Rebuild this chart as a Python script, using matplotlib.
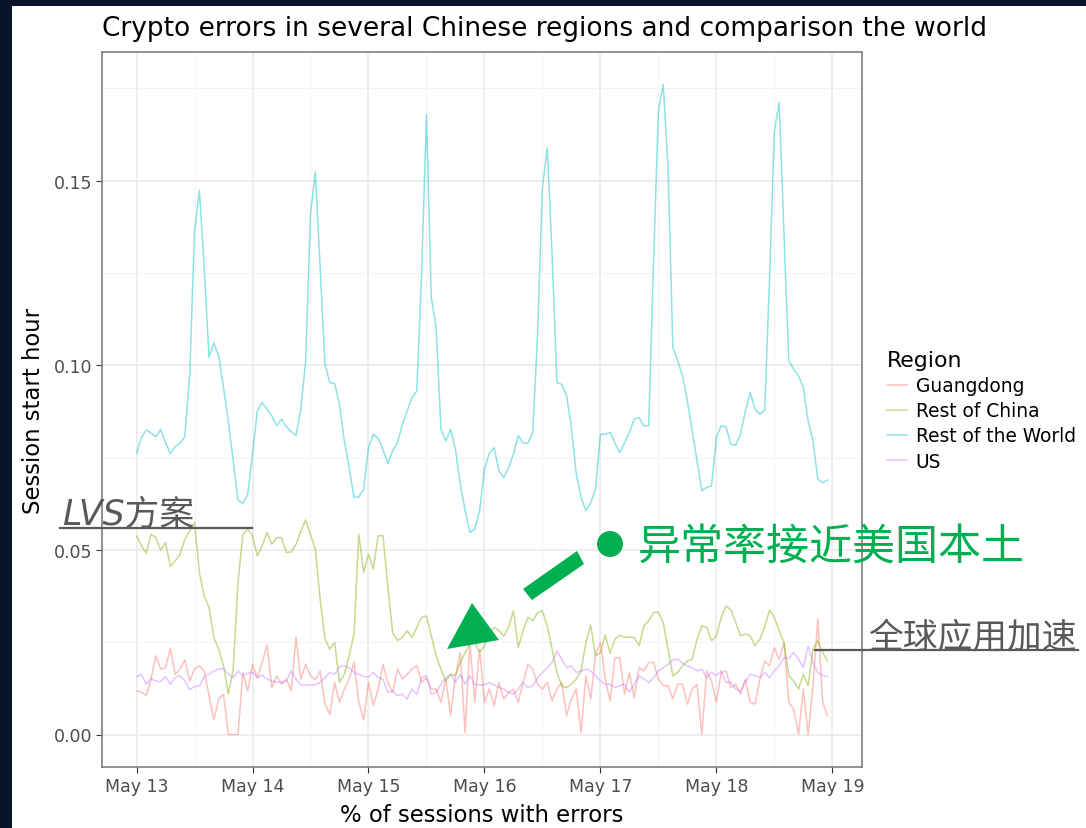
import numpy as np
import matplotlib
matplotlib.use('Agg')
import matplotlib.pyplot as plt
from matplotlib.patches import Polygon, Rectangle, Ellipse
from matplotlib.lines import Line2D

plt.rcParams['font.family'] = ['DejaVu Sans', 'Noto Sans CJK SC']

regions = ['Guangdong', 'Rest of China', 'Rest of the World', 'US']
colors = ['#F8766D', '#7CAE00', '#00BFC4', '#C77CFF']
day_labels = ['May 13', 'May 14', 'May 15', 'May 16', 'May 17', 'May 18', 'May 19']

# hourly values, May 13 00:00 .. May 18 23:00
guangdong = [
    0.0118, 0.0115, 0.0106, 0.0150, 0.0213, 0.0177, 0.0181, 0.0233, 0.0163, 0.0177, 0.0202, 0.0145,
    0.0177, 0.0186, 0.0172, 0.0105, 0.0040, 0.0096, 0.0109, 0.0000, 0.0000, 0.0000, 0.0168, 0.0118,
    0.0190, 0.0154, 0.0195, 0.0242, 0.0127, 0.0159, 0.0136, 0.0150, 0.0118, 0.0263, 0.0150, 0.0190,
    0.0159, 0.0148, 0.0172, 0.0082, 0.0055, 0.0141, 0.0087, 0.0123, 0.0150, 0.0195, 0.0087, 0.0040,
    0.0141, 0.0078, 0.0123, 0.0190, 0.0141, 0.0114, 0.0177, 0.0150, 0.0163, 0.0177, 0.0186, 0.0141,
    0.0154, 0.0123, 0.0123, 0.0087, 0.0150, 0.0051, 0.0159, 0.0222, 0.0005, 0.0249, 0.0087, 0.0231,
    0.0087, 0.0123, 0.0078, 0.0141, 0.0096, 0.0114, 0.0123, 0.0087, 0.0141, 0.0190, 0.0177, 0.0136,
    0.0123, 0.0141, 0.0091, 0.0123, 0.0141, 0.0051, 0.0096, 0.0123, 0.0005, 0.0159, 0.0096, 0.0217,
    0.0249, 0.0150, 0.0091, 0.0208, 0.0208, 0.0109, 0.0168, 0.0100, 0.0181, 0.0172, 0.0195, 0.0195,
    0.0150, 0.0132, 0.0132, 0.0096, 0.0136, 0.0136, 0.0082, 0.0123, 0.0136, 0.0000, 0.0172, 0.0145,
    0.0087, 0.0168, 0.0172, 0.0127, 0.0136, 0.0109, 0.0150, 0.0087, 0.0082, 0.0150, 0.0199, 0.0186,
    0.0235, 0.0204, 0.0249, 0.0087, 0.0069, 0.0000, 0.0123, 0.0000, 0.0132, 0.0312, 0.0087, 0.0051,
]
rest_of_china = [
    0.0538, 0.0511, 0.0491, 0.0542, 0.0533, 0.0499, 0.0520, 0.0455, 0.0470, 0.0488, 0.0529, 0.0551,
    0.0574, 0.0439, 0.0375, 0.0344, 0.0263, 0.0231, 0.0186, 0.0109, 0.0177, 0.0411, 0.0542, 0.0556,
    0.0538, 0.0484, 0.0511, 0.0547, 0.0515, 0.0533, 0.0533, 0.0493, 0.0494, 0.0515, 0.0551, 0.0581,
    0.0542, 0.0502, 0.0366, 0.0258, 0.0231, 0.0249, 0.0141, 0.0163, 0.0213, 0.0272, 0.0542, 0.0439,
    0.0488, 0.0448, 0.0538, 0.0538, 0.0402, 0.0276, 0.0254, 0.0263, 0.0281, 0.0263, 0.0290, 0.0317,
    0.0321, 0.0267, 0.0213, 0.0177, 0.0145, 0.0163, 0.0159, 0.0195, 0.0222, 0.0245, 0.0250, 0.0222,
    0.0240, 0.0272, 0.0290, 0.0281, 0.0267, 0.0290, 0.0335, 0.0236, 0.0281, 0.0317, 0.0308, 0.0330,
    0.0335, 0.0294, 0.0231, 0.0168, 0.0132, 0.0127, 0.0136, 0.0150, 0.0172, 0.0249, 0.0296, 0.0213,
    0.0222, 0.0269, 0.0220, 0.0258, 0.0269, 0.0263, 0.0264, 0.0263, 0.0240, 0.0294, 0.0308, 0.0330,
    0.0332, 0.0303, 0.0231, 0.0159, 0.0168, 0.0186, 0.0199, 0.0204, 0.0258, 0.0294, 0.0290, 0.0254,
    0.0267, 0.0317, 0.0348, 0.0337, 0.0303, 0.0267, 0.0272, 0.0267, 0.0240, 0.0258, 0.0290, 0.0337,
    0.0317, 0.0281, 0.0249, 0.0159, 0.0145, 0.0123, 0.0163, 0.0132, 0.0231, 0.0254, 0.0222, 0.0199,
]
rest_of_world = [
    0.0761, 0.0804, 0.0825, 0.0816, 0.0806, 0.0826, 0.0790, 0.0761, 0.0779, 0.0789, 0.0806, 0.0975,
    0.1363, 0.1473, 0.1264, 0.1022, 0.1060, 0.1025, 0.0939, 0.0849, 0.0741, 0.0634, 0.0626, 0.0650,
    0.0759, 0.0876, 0.0899, 0.0881, 0.0863, 0.0836, 0.0854, 0.0833, 0.0820, 0.0810, 0.0881, 0.1012,
    0.1408, 0.1524, 0.1264, 0.1002, 0.0953, 0.0950, 0.0894, 0.0795, 0.0723, 0.0642, 0.0643, 0.0664,
    0.0777, 0.0813, 0.0802, 0.0772, 0.0734, 0.0768, 0.0790, 0.0840, 0.0876, 0.0912, 0.0930, 0.1250,
    0.1679, 0.1183, 0.1102, 0.0826, 0.0795, 0.0826, 0.0772, 0.0678, 0.0606, 0.0547, 0.0556, 0.0606,
    0.0718, 0.0761, 0.0777, 0.0714, 0.0696, 0.0723, 0.0759, 0.0809, 0.0790, 0.0788, 0.0818, 0.1084,
    0.1481, 0.1589, 0.1300, 0.0953, 0.0948, 0.0917, 0.0831, 0.0705, 0.0642, 0.0606, 0.0628, 0.0664,
    0.0813, 0.0813, 0.0818, 0.0790, 0.0763, 0.0790, 0.0818, 0.0854, 0.0858, 0.0836, 0.0836, 0.1280,
    0.1688, 0.1760, 0.1535, 0.1048, 0.1012, 0.0971, 0.0903, 0.0822, 0.0741, 0.0660, 0.0669, 0.0673,
    0.0804, 0.0836, 0.0833, 0.0786, 0.0784, 0.0813, 0.0876, 0.0926, 0.0881, 0.0867, 0.0878, 0.1230,
    0.1634, 0.1711, 0.1354, 0.1012, 0.0989, 0.0971, 0.0939, 0.0849, 0.0795, 0.0691, 0.0682, 0.0689,
]
us = [
    0.0157, 0.0163, 0.0136, 0.0152, 0.0145, 0.0143, 0.0157, 0.0136, 0.0154, 0.0159, 0.0145, 0.0121,
    0.0130, 0.0132, 0.0157, 0.0163, 0.0172, 0.0177, 0.0179, 0.0163, 0.0154, 0.0172, 0.0159, 0.0166,
    0.0168, 0.0154, 0.0161, 0.0150, 0.0145, 0.0141, 0.0141, 0.0145, 0.0172, 0.0150, 0.0134, 0.0134,
    0.0134, 0.0134, 0.0141, 0.0154, 0.0168, 0.0163, 0.0184, 0.0186, 0.0181, 0.0168, 0.0163, 0.0157,
    0.0155, 0.0168, 0.0154, 0.0150, 0.0114, 0.0118, 0.0105, 0.0109, 0.0096, 0.0123, 0.0109, 0.0154,
    0.0159, 0.0109, 0.0114, 0.0136, 0.0154, 0.0163, 0.0141, 0.0163, 0.0136, 0.0159, 0.0136, 0.0134,
    0.0134, 0.0141, 0.0134, 0.0127, 0.0123, 0.0114, 0.0109, 0.0123, 0.0141, 0.0127, 0.0132, 0.0154,
    0.0168, 0.0181, 0.0195, 0.0226, 0.0204, 0.0181, 0.0186, 0.0168, 0.0172, 0.0177, 0.0172, 0.0159,
    0.0145, 0.0136, 0.0136, 0.0127, 0.0132, 0.0136, 0.0114, 0.0136, 0.0159, 0.0150, 0.0141, 0.0154,
    0.0172, 0.0181, 0.0190, 0.0202, 0.0204, 0.0193, 0.0186, 0.0181, 0.0172, 0.0177, 0.0154, 0.0168,
    0.0159, 0.0172, 0.0141, 0.0141, 0.0123, 0.0118, 0.0141, 0.0163, 0.0159, 0.0154, 0.0168, 0.0154,
    0.0172, 0.0186, 0.0208, 0.0206, 0.0222, 0.0204, 0.0181, 0.0240, 0.0195, 0.0168, 0.0159, 0.0157,
]

W, H = 1086, 829
fig = plt.figure(figsize=(W / 100, H / 100), dpi=100, facecolor='#071429')

# white slide area inside the dark frame
fig.patches.append(Rectangle((12 / W, 0), 1, 1 - 7 / H, transform=fig.transFigure,
                             facecolor='white', edgecolor='none', zorder=-10))

ax = fig.add_axes([102 / W, 1 - 768 / H, 760 / W, 715 / H])
ax.set_facecolor('white')

x = np.arange(len(guangdong)) / 24.0
series = [guangdong, rest_of_china, rest_of_world, us]
for vals, name, c in zip(series, regions, colors):
    ax.plot(x, vals, color=c, alpha=0.45, lw=1.1, label=name)

ax.margins(x=0.05, y=0.05)

ax.set_xticks(np.arange(7))
ax.set_xticklabels(day_labels)
ax.set_xticks(np.arange(7) - 0.5, minor=True)
ax.set_yticks([0.0, 0.05, 0.10, 0.15])
ax.set_yticklabels(['0.00', '0.05', '0.10', '0.15'])
ax.set_yticks([0.025, 0.075, 0.125, 0.175], minor=True)
ax.set_xlim(-0.298, 6.256)

ax.grid(which='major', color='#ebebeb', lw=1.2)
ax.grid(which='minor', color='#f3f3f3', lw=0.7)
ax.set_axisbelow(True)

for s in ax.spines.values():
    s.set_color('#7f7f7f')
    s.set_linewidth(1.2)

ax.tick_params(which='major', length=4, color='#333333', labelsize=12.5, labelcolor='#4d4d4d', pad=3)
ax.tick_params(which='minor', length=0)

ax.set_xlabel('% of sessions with errors', fontsize=16.4, color='black', labelpad=6)
ax.set_ylabel('Session start hour', fontsize=16.4, color='black', labelpad=6)
fig.text(102 / W, 1 - 29 / H, 'Crypto errors in several Chinese regions and comparison the world',
         fontsize=19, color='black', ha='left', va='center')

leg = ax.legend(loc='upper left', bbox_to_anchor=(887 / W, 1 - 351 / H), bbox_transform=fig.transFigure,
                frameon=False, title='Region', fontsize=13.4, title_fontsize=15.8,
                handlelength=1.1, handletextpad=0.45, labelspacing=0.33, alignment='left',
                borderaxespad=0, borderpad=0)

# annotations
def fx(px):
    return px / W

def fy(py):
    return 1 - py / H

grey = '#595959'
fig.text(fx(62), fy(525), 'LVS方案', fontsize=25, style='italic', color=grey, ha='left', va='baseline')
fig.lines.append(Line2D([fx(60), fx(252)], [fy(529), fy(529)], transform=fig.transFigure, color=grey, lw=1.6))
fig.text(fx(868), fy(647), '全球应用加速', fontsize=25, style='italic', color=grey, ha='left', va='baseline')
fig.lines.append(Line2D([fx(815), fx(1078)], [fy(651), fy(651)], transform=fig.transFigure, color=grey, lw=1.6))

green = '#00B050'
fig.text(fx(638), fy(548), '异常率接近美国本土', fontsize=31, color=green, ha='left', va='center',
         family=['Noto Sans CJK SC', 'DejaVu Sans'])
fig.patches.append(Ellipse((fx(610), fy(545)), 26 / W, 26 / H, transform=fig.transFigure,
                           facecolor=green, edgecolor='none', zorder=5))
shaft = [(523, 590), (577, 552), (584, 565), (532, 601)]
fig.patches.append(Polygon([(fx(a), fy(b)) for a, b in shaft], closed=True, transform=fig.transFigure,
                           facecolor=green, edgecolor='none', zorder=5))
head = [(472, 604), (447, 650), (499, 641)]
fig.patches.append(Polygon([(fx(a), fy(b)) for a, b in head], closed=True, transform=fig.transFigure,
                           facecolor=green, edgecolor='none', zorder=5))

plt.savefig('out.png', dpi=100, facecolor=fig.get_facecolor())
